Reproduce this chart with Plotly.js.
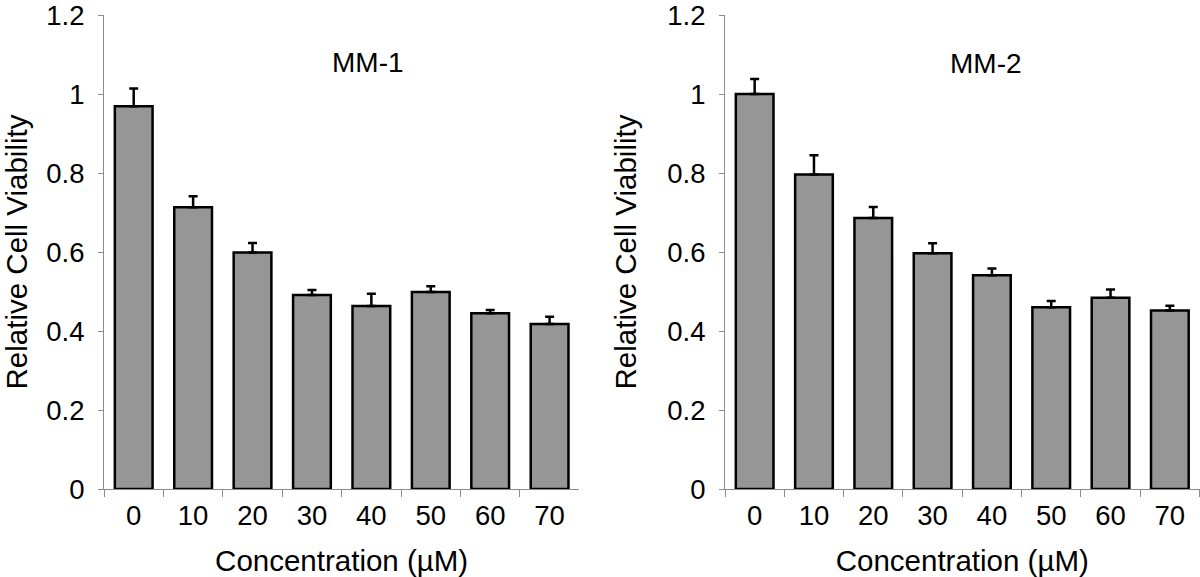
<!DOCTYPE html>
<html>
<head>
<meta charset="utf-8">
<script src="https://cdn.plot.ly/plotly-3.0.1.min.js"></script>
<style>
  html, body { margin: 0; padding: 0; background: #fff; }
  #chart { width: 1200px; height: 577px; }
</style>
</head>
<body>
<div id="chart"></div>
<script>
const concentrations = ["0", "10", "20", "30", "40", "50", "60", "70"];
const mm1Values = [0.969, 0.713, 0.599, 0.491, 0.463, 0.499, 0.445, 0.418];
const mm1Errors = [0.045, 0.028, 0.024, 0.013, 0.031, 0.014, 0.008, 0.018];
const mm2Values = [1.0, 0.796, 0.686, 0.597, 0.541, 0.460, 0.484, 0.452];
const mm2Errors = [0.038, 0.049, 0.028, 0.025, 0.017, 0.016, 0.021, 0.012];
const panelTitles = ["MM-1", "MM-2"];
const xTitle = "Concentration (µM)";
const yTitle = "Relative Cell Viability";
const yTickVals = [0, 0.2, 0.4, 0.6, 0.8, 1, 1.2];
const yTickText = ["0", "0.2", "0.4", "0.6", "0.8", "1", "1.2"];

const FONT = "Liberation Sans, Arial, sans-serif";
const barColor = "#969696";

function barTrace(vals, errs, xa, ya) {
  return {
    type: "bar",
    x: concentrations,
    y: vals,
    xaxis: xa,
    yaxis: ya,
    marker: { color: barColor, line: { color: "#000", width: 2.5 } },
    error_y: {
      type: "data", symmetric: false, array: errs,
      arrayminus: errs.map(() => 0),
      color: "#000", thickness: 2.5, width: 4.5
    },
    showlegend: false,
    hoverinfo: "x+y"
  };
}

const data = [
  barTrace(mm1Values, mm1Errors, "x", "y"),
  barTrace(mm2Values, mm2Errors, "x2", "y2")
];

function xAxis(domain, anchor) {
  return {
    domain: domain, anchor: anchor, type: "category",
    range: [-0.5, 7.5],
    showline: true, linecolor: "#8c8c8c", linewidth: 1,
    ticks: "outside", tickson: "boundaries", ticklen: 7, tickcolor: "#8c8c8c", tickwidth: 1,
    showgrid: false, zeroline: false,
    tickfont: { family: FONT, size: 27.5, color: "#000" },
    ticklabelstandoff: 2,
    title: { text: xTitle, font: { family: FONT, size: 29.5, color: "#000" }, standoff: 20 },
    automargin: false, fixedrange: true
  };
}
function yAxis(domain, anchor) {
  return {
    domain: [0, 1], anchor: anchor,
    range: [0, 1.2], tickvals: yTickVals, ticktext: yTickText,
    ticklabeloverflow: "allow",
    showline: true, linecolor: "#8c8c8c", linewidth: 1,
    ticks: "outside", ticklen: 5, tickcolor: "#8c8c8c", tickwidth: 1,
    showgrid: false, zeroline: false,
    tickfont: { family: FONT, size: 27.5, color: "#000" },
    ticklabelstandoff: 8,
    title: { text: yTitle, font: { family: FONT, size: 29.5, color: "#000" }, standoff: 21 },
    automargin: false, fixedrange: true
  };
}

const layout = {
  width: 1200, height: 577,
  margin: { l: 0, r: 0, t: 15, b: 88 },
  paper_bgcolor: "#fff", plot_bgcolor: "#fff",
  bargap: 0.365,
  font: { family: FONT, color: "#000" },
  xaxis: xAxis([104 / 1200, 579.3 / 1200], "y"),
  yaxis: yAxis([0, 1], "x"),
  xaxis2: xAxis([725 / 1200, 1199.5 / 1200], "y2"),
  yaxis2: yAxis([0, 1], "x2"),
  annotations: [
    { text: panelTitles[0], xref: "paper", yref: "paper", x: 367.5 / 1200, y: (489 - 63) / 474,
      xanchor: "center", yanchor: "middle", showarrow: false, font: { family: FONT, size: 28, color: "#000" } },
    { text: panelTitles[1], xref: "paper", yref: "paper", x: 986 / 1200, y: (489 - 64) / 474,
      xanchor: "center", yanchor: "middle", showarrow: false, font: { family: FONT, size: 28, color: "#000" } }
  ]
};

Plotly.newPlot("chart", data, layout, { displayModeBar: false, staticPlot: true });
</script>
</body>
</html>
